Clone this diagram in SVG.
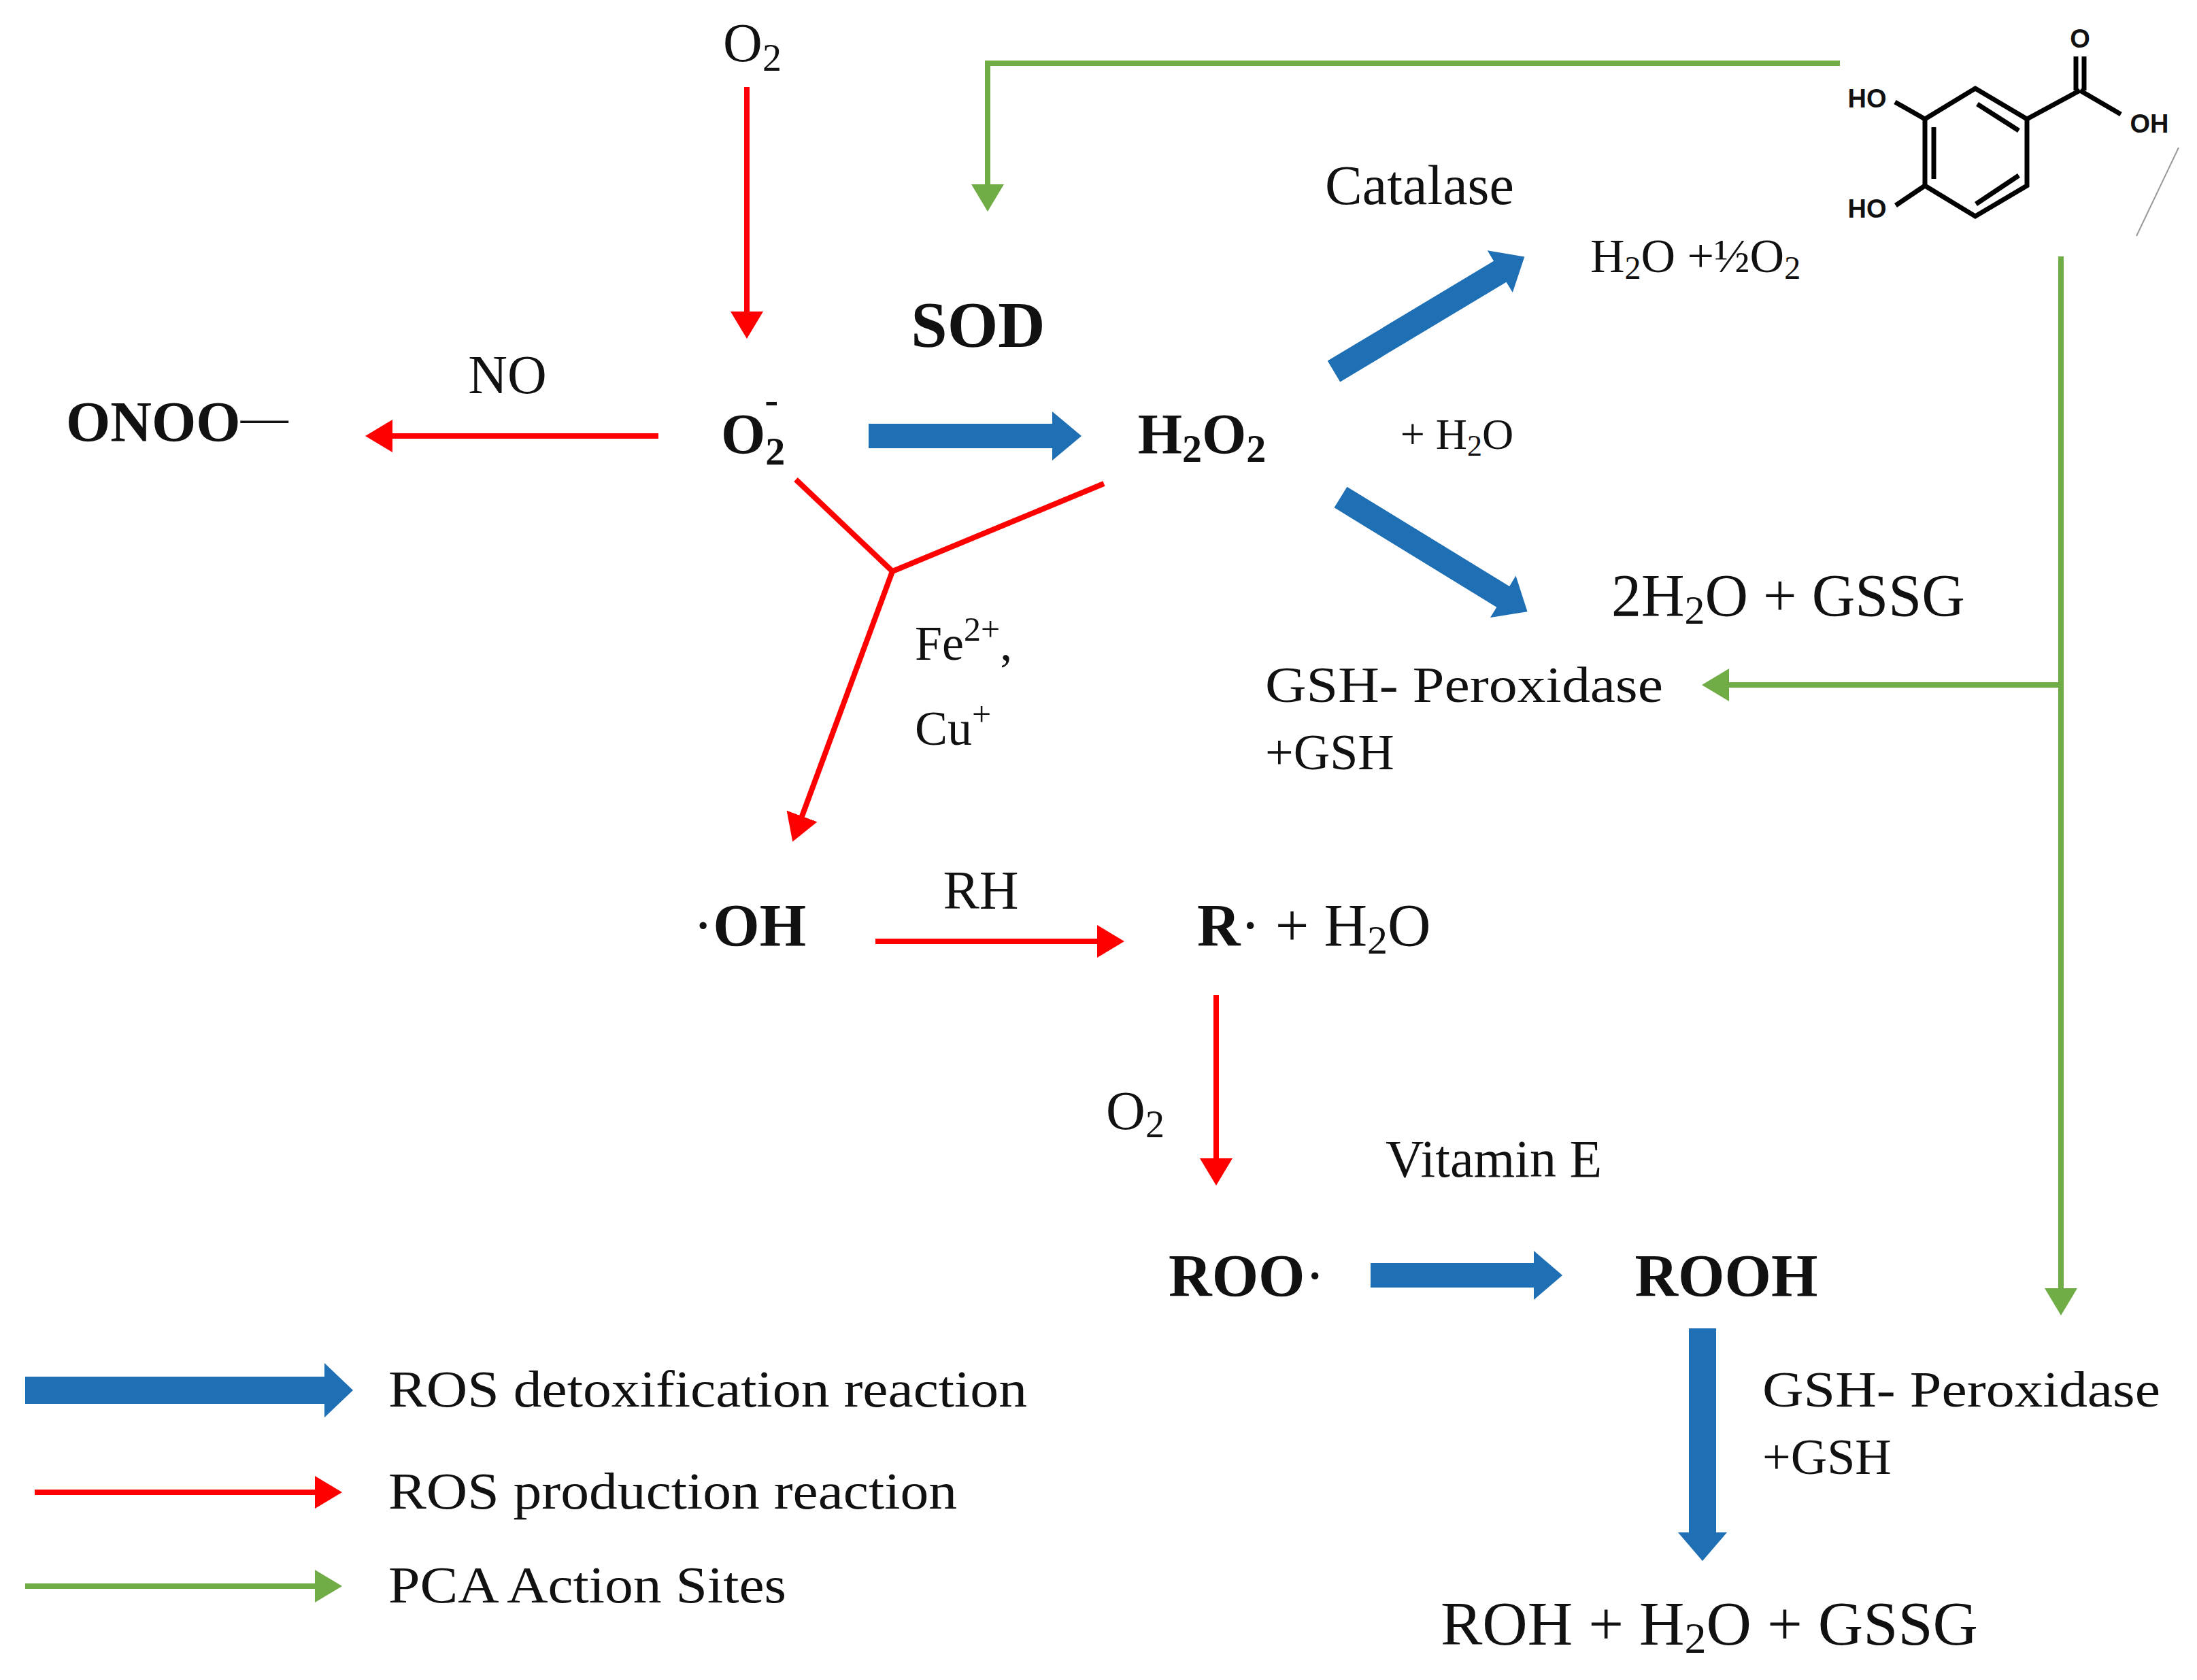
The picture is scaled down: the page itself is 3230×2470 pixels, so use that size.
<svg xmlns="http://www.w3.org/2000/svg" width="3230" height="2470" viewBox="0 0 3230 2470">
<style>
text{font-family:"Liberation Serif","Times New Roman",serif;fill:#111}
.b{font-weight:bold}
.red{stroke:#ff0000;stroke-width:8;fill:none}
.grn{stroke:#70ad47;stroke-width:8;fill:none}
.blue{fill:#1f6fb5}
.mol{stroke:#000;stroke-width:7;fill:none}
.ms{font-family:"Liberation Sans",Arial,sans-serif;font-weight:bold;font-size:38px}
</style>
<defs>
<marker id="ra" markerWidth="6" markerHeight="6" refX="4" refY="3" orient="auto" markerUnits="strokeWidth"><path d="M0,0 L5,3 L0,6 Z" fill="#ff0000"/></marker>
<marker id="ga" markerWidth="6" markerHeight="6" refX="4" refY="3" orient="auto" markerUnits="strokeWidth"><path d="M0,0 L5,3 L0,6 Z" fill="#70ad47"/></marker>
</defs>
<g id="connectors">
<line class="red" x1="1098" y1="128" x2="1098" y2="490" marker-end="url(#ra)"/>
<line class="red" x1="968" y1="641" x2="545" y2="641" marker-end="url(#ra)"/>
<polyline class="red" points="1170,705 1312,840 1623,711"/>
<line class="red" x1="1312" y1="840" x2="1168" y2="1230" marker-end="url(#ra)"/>
<line class="red" x1="1287" y1="1384" x2="1645" y2="1384" marker-end="url(#ra)"/>
<line class="red" x1="1788" y1="1463" x2="1788" y2="1735" marker-end="url(#ra)"/>
<polyline class="grn" points="2705,93 1452,93 1452,303" marker-end="url(#ga)"/>
<line class="grn" x1="3030" y1="377" x2="3030" y2="1926" marker-end="url(#ga)"/>
<line class="grn" x1="3030" y1="1007" x2="2510" y2="1007" marker-end="url(#ga)"/>
<polygon class="blue" points="0,-18 270,-18 270,-36 313,0 270,36 270,18 0,18" transform="translate(1277,641)"/>
<polygon class="blue" points="0,-18 285,-18 285,-36 327,0 285,36 285,18 0,18" transform="translate(1961,546) rotate(-31)"/>
<polygon class="blue" points="0,-18 280,-18 280,-36 322,0 280,36 280,18 0,18" transform="translate(1971,731) rotate(31.5)"/>
<polygon class="blue" points="0,-18 240,-18 240,-36 282,0 240,36 240,18 0,18" transform="translate(2015,1875)"/>
<polygon class="blue" points="0,-20 300,-20 300,-36 342,0 300,36 300,20 0,20" transform="translate(2503,1953) rotate(90)"/>
<polygon class="blue" points="0,-20 440,-20 440,-40 482,0 440,40 440,20 0,20" transform="translate(37,2044)"/>
<line class="red" x1="51" y1="2194" x2="495" y2="2194" marker-end="url(#ra)"/>
<line class="grn" x1="37" y1="2332" x2="495" y2="2332" marker-end="url(#ga)"/>
</g>
<g id="n-o2top"><text x="1106" y="90" font-size="80" text-anchor="middle">O<tspan font-size="56" dy="14">2</tspan></text></g>
<g id="n-sod"><text class="b" x="1438" y="510" font-size="96" text-anchor="middle">SOD</text></g>
<g id="n-catalase"><text x="2087" y="300" font-size="82" text-anchor="middle">Catalase</text></g>
<g id="n-h2o-half"><text x="2338" y="400" font-size="70">H<tspan font-size="48" dy="10">2</tspan><tspan dy="-10">O +½O</tspan><tspan font-size="48" dy="10">2</tspan></text></g>
<g id="n-o2minus"><text class="b" x="1060" y="667" font-size="84">O<tspan font-size="58" dy="16">2</tspan><tspan font-size="60" dx="-30" dy="-76">-</tspan></text></g>
<g id="n-onoo"><text class="b" x="97" y="649" font-size="84">ONOO<tspan font-weight="normal" font-size="70" dy="-12">—</tspan></text></g>
<g id="n-no"><text x="746" y="578" font-size="80" text-anchor="middle">NO</text></g>
<g id="n-h2o2"><text class="b" x="1767" y="667" font-size="84" text-anchor="middle">H<tspan font-size="58" dy="12">2</tspan><tspan dy="-12">O</tspan><tspan font-size="58" dy="12">2</tspan></text></g>
<g id="n-fe"><text x="1345" y="970" font-size="72">Fe<tspan font-size="50" dy="-28">2+</tspan><tspan dy="28">,</tspan></text><text x="1345" y="1095" font-size="72">Cu<tspan font-size="50" dy="-28">+</tspan></text></g>
<g id="n-plush2o"><text x="2142" y="660" font-size="64" text-anchor="middle">+ H<tspan font-size="44" dy="10">2</tspan><tspan dy="-10">O</tspan></text></g>
<g id="n-2h2o"><text x="2369" y="905" font-size="88">2H<tspan font-size="60" dy="12">2</tspan><tspan dy="-12">O + GSSG</tspan></text></g>
<g id="n-gshp1"><text x="1860" y="1032" font-size="74" textLength="585" lengthAdjust="spacingAndGlyphs">GSH- Peroxidase</text><text x="1860" y="1131" font-size="74">+GSH</text></g>
<g id="n-oh"><text class="b" x="1102" y="1390" font-size="88" text-anchor="middle"><tspan font-weight="normal">·</tspan>OH</text></g>
<g id="n-rh"><text x="1442" y="1336" font-size="80" text-anchor="middle">RH</text></g>
<g id="n-r"><text x="1760" y="1390" font-size="88"><tspan class="b">R</tspan>· +  H<tspan font-size="60" dy="12">2</tspan><tspan dy="-12">O</tspan></text></g>
<g id="n-o2mid"><text x="1669" y="1660" font-size="80" text-anchor="middle">O<tspan font-size="56" dy="12">2</tspan></text></g>
<g id="n-vite"><text x="2196" y="1730" font-size="78" text-anchor="middle">Vitamin  E</text></g>
<g id="n-roo"><text class="b" x="1833" y="1905" font-size="88" text-anchor="middle">ROO<tspan font-weight="normal">·</tspan></text></g>
<g id="n-rooh"><text class="b" x="2538" y="1905" font-size="88" text-anchor="middle">ROOH</text></g>
<g id="n-gshp2"><text x="2591" y="2068" font-size="74" textLength="585" lengthAdjust="spacingAndGlyphs">GSH- Peroxidase</text><text x="2591" y="2167" font-size="74">+GSH</text></g>
<g id="n-roh"><text x="2513" y="2418" font-size="92" text-anchor="middle">ROH + H<tspan font-size="64" dy="12">2</tspan><tspan dy="-12">O + GSSG</tspan></text></g>
<g id="legend">
<text x="571" y="2068" font-size="76" textLength="939" lengthAdjust="spacingAndGlyphs">ROS detoxification  reaction</text>
<text x="571" y="2218" font-size="76" textLength="836" lengthAdjust="spacingAndGlyphs">ROS production reaction</text>
<text x="571" y="2356" font-size="76" textLength="585" lengthAdjust="spacingAndGlyphs">PCA Action Sites</text>
</g>
<g id="n-pca">
<polygon class="mol" points="2904,130 2980,175 2980,273 2904,318 2830,273 2830,175"/>
<line class="mol" x1="2907" y1="153" x2="2968" y2="192"/>
<line class="mol" x1="2843" y1="187" x2="2843" y2="263"/>
<line class="mol" x1="2968" y1="258" x2="2905" y2="300"/>
<line class="mol" x1="2980" y1="175" x2="3058" y2="133"/>
<line class="mol" x1="3058" y1="133" x2="3118" y2="168"/>
<line class="mol" x1="3052" y1="133" x2="3052" y2="83"/>
<line class="mol" x1="3064" y1="133" x2="3064" y2="83"/>
<line class="mol" x1="2830" y1="175" x2="2786" y2="150"/>
<line class="mol" x1="2830" y1="273" x2="2787" y2="302"/>
<text class="ms" x="3058" y="70" text-anchor="middle">O</text>
<text class="ms" x="3160" y="195" text-anchor="middle">OH</text>
<text class="ms" x="2745" y="158" text-anchor="middle">HO</text>
<text class="ms" x="2745" y="320" text-anchor="middle">HO</text>
<line x1="3203" y1="217" x2="3141" y2="347" stroke="#999" stroke-width="2"/>
</g>
</svg>
